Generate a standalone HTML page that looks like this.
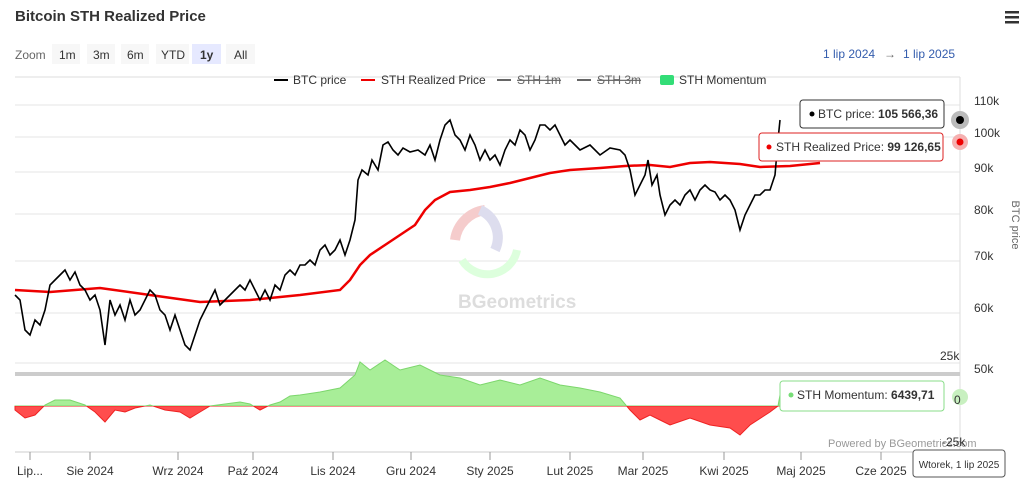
<!DOCTYPE html><html><head><style>
body{margin:0;width:1024px;height:492px;background:#fff;font-family:"Liberation Sans",sans-serif;overflow:hidden}
</style></head><body>
<svg width="1024" height="492" xmlns="http://www.w3.org/2000/svg" font-family="Liberation Sans, sans-serif">
<text x="15" y="21" font-size="15" font-weight="bold" fill="#333">Bitcoin STH Realized Price</text>
<g fill="#333"><rect x="1005" y="11" width="14" height="2.5"/><rect x="1005" y="16" width="14" height="2.5"/><rect x="1005" y="21" width="14" height="2.5"/></g>
<text x="15" y="59" font-size="12" fill="#666">Zoom</text>
<g font-size="12" fill="#333">
<rect x="52" y="44" width="28" height="20" fill="#f7f7f7"/><text x="59" y="59">1m</text>
<rect x="87" y="44" width="28" height="20" fill="#f7f7f7"/><text x="93" y="59">3m</text>
<rect x="121" y="44" width="28" height="20" fill="#f7f7f7"/><text x="127" y="59">6m</text>
<rect x="156" y="44" width="33" height="20" fill="#f7f7f7"/><text x="161" y="59">YTD</text>
<rect x="192" y="44" width="29" height="20" fill="#e6e9ff"/><text x="200" y="59" font-weight="bold">1y</text>
<rect x="226" y="44" width="29" height="20" fill="#f7f7f7"/><text x="234" y="59">All</text>
</g>
<text x="823" y="58" font-size="12" fill="#335cad">1 lip 2024</text><text x="884" y="58" font-size="12" fill="#666">→</text><text x="903" y="58" font-size="12" fill="#335cad">1 lip 2025</text>
<line x1="15" y1="77" x2="960" y2="77" stroke="#ddd"/>
<g font-size="12" fill="#333">
<line x1="274" y1="80" x2="288" y2="80" stroke="#000" stroke-width="2"/><text x="293" y="84">BTC price</text>
<line x1="361" y1="80" x2="375" y2="80" stroke="#e00" stroke-width="2"/><text x="381" y="84">STH Realized Price</text>
<line x1="497" y1="80" x2="511" y2="80" stroke="#666" stroke-width="2"/><text x="517" y="84" fill="#666" text-decoration="line-through">STH 1m</text>
<line x1="577" y1="80" x2="591" y2="80" stroke="#666" stroke-width="2"/><text x="597" y="84" fill="#666" text-decoration="line-through">STH 3m</text>
<rect x="660" y="75" width="14" height="10" rx="2" fill="#33dd77"/><text x="679" y="84">STH Momentum</text>
</g>
<g stroke="#e6e6e6"><line x1="15" y1="105" x2="960" y2="105"/><line x1="15" y1="137" x2="960" y2="137"/><line x1="15" y1="172" x2="960" y2="172"/><line x1="15" y1="214" x2="960" y2="214"/><line x1="15" y1="261" x2="960" y2="261"/><line x1="15" y1="313" x2="960" y2="313"/><line x1="15" y1="363" x2="960" y2="363"/></g>
<line x1="960" y1="77" x2="960" y2="452" stroke="#ddd"/>
<g font-size="12" fill="#333"><text x="974" y="105">110k</text><text x="974" y="137">100k</text><text x="974" y="172">90k</text><text x="974" y="214">80k</text><text x="974" y="260">70k</text><text x="974" y="312">60k</text><text x="974" y="373">50k</text></g>
<text x="1012" y="225" font-size="11" fill="#666" transform="rotate(90 1012 225)" text-anchor="middle">BTC price</text>
<text x="458" y="308" font-size="19" font-weight="bold" fill="#ddd">BGeometrics</text>
<path d="M455 240 a35 35 0 0 1 30 -30" stroke="#f5cccc" stroke-width="10" fill="none"/>
<path d="M480 210 a30 30 0 0 1 15 40" stroke="#dde" stroke-width="10" fill="none"/>
<path d="M462 260 a30 30 0 0 0 55 -10" stroke="#dfd" stroke-width="8" fill="none"/>
<rect x="15" y="372" width="945" height="4" fill="#ccc"/>
<text x="940" y="360" font-size="12" fill="#333">25k</text>
<defs><clipPath id="up"><rect x="0" y="0" width="1024" height="406"/></clipPath><clipPath id="dn"><rect x="0" y="406" width="1024" height="80"/></clipPath></defs>
<g id="mom">
<path clip-path="url(#up)" fill="#a8ee98" stroke="#7cd66c" d="M15 406 L15 410 L25 418 L35 415 L45 405 L55 400 L70 400 L85 405 L95 412 L105 422 L115 410 L125 412 L135 408 L150 405 L165 410 L180 412 L190 418 L200 412 L210 406 L225 404 L240 402 L250 404 L260 410 L270 405 L280 402 L290 396 L300 395 L320 392 L340 388 L355 375 L360 362 L370 370 L385 360 L400 370 L420 365 L440 375 L460 378 L480 385 L500 380 L520 385 L540 378 L560 385 L580 388 L600 392 L620 398 L630 410 L640 420 L650 415 L660 420 L670 425 L690 418 L710 425 L730 428 L740 435 L750 425 L770 412 L778 406 L780 395 L780 406 Z"/>
<path clip-path="url(#dn)" fill="#ff4d4d" stroke="#e22" d="M15 406 L15 410 L25 418 L35 415 L45 405 L55 400 L70 400 L85 405 L95 412 L105 422 L115 410 L125 412 L135 408 L150 405 L165 410 L180 412 L190 418 L200 412 L210 406 L225 404 L240 402 L250 404 L260 410 L270 405 L280 402 L290 396 L300 395 L320 392 L340 388 L355 375 L360 362 L370 370 L385 360 L400 370 L420 365 L440 375 L460 378 L480 385 L500 380 L520 385 L540 378 L560 385 L580 388 L600 392 L620 398 L630 410 L640 420 L650 415 L660 420 L670 425 L690 418 L710 425 L730 428 L740 435 L750 425 L770 412 L778 406 L780 395 L780 406 Z"/>
</g>
<polyline fill="none" stroke="#e00" stroke-width="2.5" points="15,290 50,292 100,288 150,295 200,302 250,300 300,295 340,290 350,280 360,265 370,255 385,245 400,235 415,225 425,210 435,200 450,192 470,190 490,187 510,183 530,178 550,173 570,170 600,168 625,166 650,165 670,167 690,163 710,162 740,164 760,167 790,166 820,163"/>
<polyline fill="none" stroke="#000" stroke-width="1.6" points="15,295 20,300 25,330 30,335 35,320 40,325 45,310 50,285 55,280 60,275 65,270 70,280 75,272 80,285 85,290 90,300 95,295 100,310 105,345 110,300 115,315 120,305 125,320 130,300 135,315 140,310 145,300 150,290 155,295 160,310 165,315 170,330 175,315 180,330 185,345 190,350 195,335 200,320 205,310 210,300 215,290 220,305 225,300 230,295 235,290 240,285 245,290 250,280 255,290 260,300 265,290 270,300 275,285 280,290 285,275 290,270 295,275 300,265 305,265 310,260 315,265 320,250 325,245 330,255 335,250 340,240 345,255 350,240 355,220 358,180 362,170 368,175 372,160 378,170 383,145 388,142 393,150 398,155 403,148 410,152 418,150 425,155 430,145 435,160 440,140 445,125 450,120 455,135 460,140 465,150 470,135 475,145 480,160 485,150 490,160 495,155 500,165 505,150 510,140 515,145 520,130 525,135 530,150 535,140 540,125 545,125 550,130 555,125 560,135 565,145 570,140 575,145 580,150 590,145 600,155 610,148 620,150 625,155 630,170 635,195 640,185 645,175 648,160 652,185 657,175 660,195 665,215 670,205 675,200 680,205 685,195 690,190 695,200 700,190 705,185 710,190 715,192 720,200 725,195 730,200 735,210 740,230 745,215 750,205 755,195 760,195 765,190 770,190 775,175 778,140 780,120"/>
<line x1="15" y1="452" x2="960" y2="452" stroke="#ccc"/>
<g stroke="#999"><line x1="30" y1="452" x2="30" y2="460"/><line x1="90" y1="452" x2="90" y2="460"/><line x1="178" y1="452" x2="178" y2="460"/><line x1="253" y1="452" x2="253" y2="460"/><line x1="333" y1="452" x2="333" y2="460"/><line x1="411" y1="452" x2="411" y2="460"/><line x1="490" y1="452" x2="490" y2="460"/><line x1="570" y1="452" x2="570" y2="460"/><line x1="643" y1="452" x2="643" y2="460"/><line x1="724" y1="452" x2="724" y2="460"/><line x1="801" y1="452" x2="801" y2="460"/><line x1="881" y1="452" x2="881" y2="460"/></g>
<g font-size="12" fill="#333" text-anchor="middle"><text x="30" y="475">Lip...</text><text x="90" y="475">Sie 2024</text><text x="178" y="475">Wrz 2024</text><text x="253" y="475">Paź 2024</text><text x="333" y="475">Lis 2024</text><text x="411" y="475">Gru 2024</text><text x="490" y="475">Sty 2025</text><text x="570" y="475">Lut 2025</text><text x="643" y="475">Mar 2025</text><text x="724" y="475">Kwi 2025</text><text x="801" y="475">Maj 2025</text><text x="881" y="475">Cze 2025</text></g>
<text x="828" y="447" font-size="11" fill="#999">Powered by BGeometrics.com</text>
<text x="942" y="446" font-size="12" fill="#333">-25k</text>
<circle cx="960" cy="120" r="9" fill="#bbb"/><circle cx="960" cy="120" r="4" fill="#000"/>
<circle cx="960" cy="142" r="8" fill="#f5b0b0"/><circle cx="960" cy="142" r="3.5" fill="#e00"/>
<circle cx="960" cy="397" r="8" fill="#c8f0c0"/><text x="954" y="404" font-size="12" fill="#333">0</text>
<rect x="800" y="100" width="144" height="28" rx="3" fill="#fff" stroke="#333"/><circle cx="812" cy="114" r="2.5" fill="#000"/><text x="818" y="118" font-size="12" fill="#333">BTC price: <tspan font-weight="bold">105 566,36</tspan></text>
<rect x="759" y="133" width="184" height="28" rx="3" fill="#fff" stroke="#d22"/><circle cx="769" cy="147" r="2.5" fill="#e00"/><text x="776" y="151" font-size="12" fill="#333">STH Realized Price: <tspan font-weight="bold">99 126,65</tspan></text>
<rect x="780" y="381" width="164" height="30" rx="3" fill="#fff" stroke="#8d8"/><circle cx="791" cy="395" r="2.5" fill="#7d7"/><text x="797" y="399" font-size="12" fill="#333">STH Momentum: <tspan font-weight="bold">6439,71</tspan></text>
<rect x="913" y="450" width="92" height="27" rx="3" fill="#fff" stroke="#555"/><text x="959" y="468" font-size="10" fill="#333" text-anchor="middle">Wtorek, 1 lip 2025</text>
</svg>
</body></html>
